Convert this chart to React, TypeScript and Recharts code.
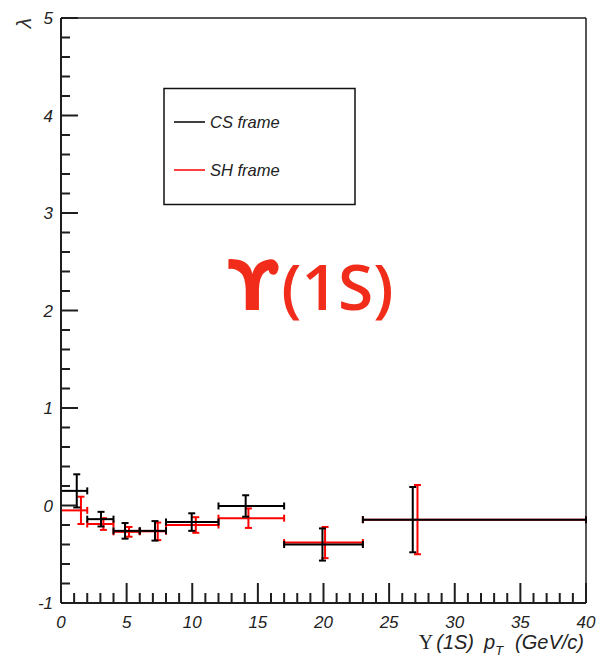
import React from "react";
import {
  ScatterChart,
  Scatter,
  XAxis,
  YAxis,
  ErrorBar,
  ReferenceLine,
} from "recharts";

// ---- data ----
const seriesNames = ["CS frame", "SH frame"];
const seriesColors = ["#000000", "#ff0000"];
const binLow = [0, 2, 4, 6, 8, 12, 17, 23];
const binHigh = [2, 4, 6, 8, 12, 17, 23, 40];
const csPt = [1.2, 3.05, 4.88, 7.16, 9.96, 14.07, 19.92, 26.8];
const csVal = [0.15, -0.14, -0.26, -0.26, -0.17, -0.005, -0.4, -0.145];
const csErr = [0.17, 0.075, 0.08, 0.1, 0.09, 0.11, 0.165, 0.335];
const shPt = [1.52, 3.23, 5.18, 7.37, 10.27, 14.28, 20.12, 27.16];
const shVal = [-0.05, -0.19, -0.27, -0.265, -0.2, -0.13, -0.38, -0.145];
const shErr = [0.14, 0.06, 0.05, 0.09, 0.08, 0.1, 0.16, 0.355];

const xTicks = [
  0, 1, 2, 3, 4, 5, 6, 7, 8, 9, 10, 11, 12, 13, 14, 15, 16, 17, 18, 19, 20,
  21, 22, 23, 24, 25, 26, 27, 28, 29, 30, 31, 32, 33, 34, 35, 36, 37, 38, 39, 40,
];
const xMajorLabels = [0, 5, 10, 15, 20, 25, 30, 35, 40];
const yTicks = [
  -1, -0.8, -0.6, -0.4, -0.2, 0, 0.2, 0.4, 0.6, 0.8, 1, 1.2, 1.4, 1.6, 1.8, 2,
  2.2, 2.4, 2.6, 2.8, 3, 3.2, 3.4, 3.6, 3.8, 4, 4.2, 4.4, 4.6, 4.8, 5,
];
const yMajorLabels = [-1, 0, 1, 2, 3, 4, 5];

const xTitle = { sym: "Υ", mid: "(1S)", p: "p", sub: "T", unit: "(GeV/c)" };
const yTitle = "λ";
const bigLabel = { sym: "ϒ", rest: "(1S)" };

const buildRows = (pt: number[], val: number[], err: number[]) =>
  pt.map((x, i) => ({
    x,
    y: val[i],
    ex: [x - binLow[i], binHigh[i] - x],
    ey: err[i],
  }));

const csData = buildRows(csPt, csVal, csErr);
const shData = buildRows(shPt, shVal, shErr);

const W = 602;
const H = 662;
const AX = "#1e1e1e";
const FONT = "'Liberation Sans', Arial, sans-serif";

const XTick = (props: any) => {
  const { x, y, payload } = props;
  const v = payload.value;
  const major = xMajorLabels.includes(v);
  return (
    <g>
      <line x1={x} x2={x} y1={y} y2={y - (major ? 20 : 10)} stroke={AX} strokeWidth={2} />
      {major && (
        <text x={x} y={y + 25} textAnchor="middle" fontSize={17} fontStyle="italic" fontFamily={FONT} fill="#222">
          {v}
        </text>
      )}
    </g>
  );
};

const YTick = (props: any) => {
  const { x, y, payload } = props;
  const v = payload.value;
  const major = yMajorLabels.includes(v);
  return (
    <g>
      <line x1={x} x2={x + (major ? 17 : 9)} y1={y} y2={y} stroke={AX} strokeWidth={2} />
      {major && (
        <text x={x - 8} y={y + 6} textAnchor="end" fontSize={17} fontStyle="italic" fontFamily={FONT} fill="#222">
          {v}
        </text>
      )}
    </g>
  );
};

const noShape = () => <g />;

export default function App() {
  return (
    <div style={{ position: "absolute", left: 0, top: 0, width: W, height: H, background: "#fff" }}>
      <ScatterChart width={W} height={H} margin={{ top: 18, right: 16, bottom: 0, left: 0 }}>
        <XAxis
          type="number"
          dataKey="x"
          domain={[0, 40]}
          ticks={xTicks}
          interval={0}
          tickSize={0}
          tickMargin={0}
          height={59}
          allowDataOverflow
          axisLine={{ stroke: AX, strokeWidth: 2 }}
          tickLine={false}
          tick={<XTick />}
        />
        <YAxis
          type="number"
          dataKey="y"
          domain={[-1, 5]}
          ticks={yTicks}
          interval={0}
          tickSize={0}
          tickMargin={0}
          width={61}
          allowDataOverflow
          axisLine={{ stroke: AX, strokeWidth: 2 }}
          tickLine={false}
          tick={<YTick />}
        />
        <ReferenceLine y={5} stroke={AX} strokeWidth={1.5} />
        <ReferenceLine x={40} stroke={AX} strokeWidth={1.5} />
        <Scatter name={seriesNames[1]} data={shData} shape={noShape} isAnimationActive={false} fill={seriesColors[1]}>
          <ErrorBar dataKey="ex" direction="x" width={3.5} stroke={seriesColors[1]} strokeWidth={2} isAnimationActive={false} />
          <ErrorBar dataKey="ey" direction="y" width={3.5} stroke={seriesColors[1]} strokeWidth={2} isAnimationActive={false} />
        </Scatter>
        <Scatter name={seriesNames[0]} data={csData} shape={noShape} isAnimationActive={false} fill={seriesColors[0]}>
          <ErrorBar dataKey="ex" direction="x" width={3.5} stroke={seriesColors[0]} strokeWidth={2} isAnimationActive={false} />
          <ErrorBar dataKey="ey" direction="y" width={3.5} stroke={seriesColors[0]} strokeWidth={2} isAnimationActive={false} />
        </Scatter>
      </ScatterChart>
      <svg width={W} height={H} style={{ position: "absolute", left: 0, top: 0, pointerEvents: "none" }}>
        {/* legend */}
        <rect x={164} y={88.5} width={191} height={116} fill="#fff" stroke="#111" strokeWidth={1.5} />
        {seriesNames.map((n, i) => (
          <g key={n}>
            <line x1={174} x2={205} y1={122 + i * 48} y2={122 + i * 48} stroke={seriesColors[i]} strokeWidth={1.5} />
            <text x={210} y={127.5 + i * 48} fontSize={16.5} fontStyle="italic" fontFamily={FONT} fill="#222">
              {n}
            </text>
          </g>
        ))}
        <text
          transform="translate(23,23) rotate(-90)"
          textAnchor="middle"
          dominantBaseline="central"
          fontSize={21}
          fontStyle="italic"
          fontFamily={FONT}
          fill="#333"
        >
          {yTitle}
        </text>
        <text x={584} y={649} textAnchor="end" fontSize={20} fontFamily={FONT} fill="#222">
          <tspan fontFamily="'Liberation Serif', serif">{xTitle.sym}</tspan>
          <tspan fontStyle="italic" dx={3}>{xTitle.mid}</tspan>
          <tspan fontStyle="italic" dx={10}>{xTitle.p}</tspan>
          <tspan fontStyle="italic" fontSize={13} dy={6}>{xTitle.sub}</tspan>
          <tspan fontStyle="italic" dy={-6} dx={12}>{xTitle.unit}</tspan>
        </text>
        <text x={227} y={310} fontSize={64} fontWeight={600} fontFamily="'Open Sans', 'DejaVu Sans', sans-serif" fill="#f22c1a">
          <tspan fontFamily="'DejaVu Sans', sans-serif" fontWeight="bold" fontSize={70}>{bigLabel.sym}</tspan>
          <tspan dx={2}>{bigLabel.rest}</tspan>
        </text>
      </svg>
    </div>
  );
}
